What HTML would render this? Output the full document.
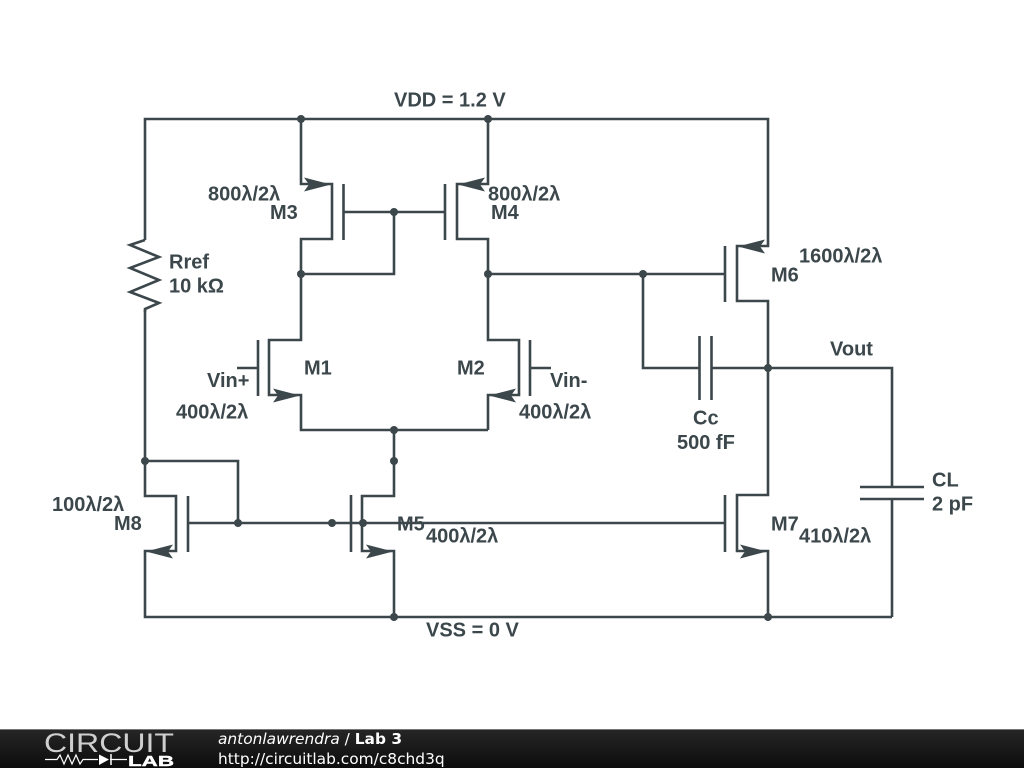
<!DOCTYPE html>
<html>
<head>
<meta charset="utf-8">
<style>
html,body{margin:0;padding:0;background:#fff;width:1024px;height:768px;overflow:hidden}
svg{display:block}
.t{font-family:"Liberation Sans",Arial,sans-serif;font-weight:700;font-size:20px;fill:#3c474c}
.f{font-family:"DejaVu Sans",sans-serif;font-size:15.4px;fill:#fff}
</style>
</head>
<body>
<svg width="1024" height="768" viewBox="0 0 1024 768" xmlns="http://www.w3.org/2000/svg">
<defs>
<linearGradient id="g" x1="0" y1="0" x2="0" y2="1"><stop offset="0" stop-color="#262626"/><stop offset="1" stop-color="#0c0c0c"/></linearGradient>
</defs>
<rect width="1024" height="768" fill="#fff"/>
<g fill="none" stroke="#3c474c" stroke-width="2.6" stroke-linejoin="miter">
<!-- supply rails and right-hand branch -->
<path d="M145 240V119H768V246H737V301H768V495H737V551H768V617"/>
<path d="M892 617H145V551H176V496H145V310"/>
<path d="M145 240L130 245L159 257L130 268L159 280L130 292L159 303L145 309V312"/>
<path d="M145 461H238V523"/>
<!-- M3 / M1 -->
<path d="M301 119V184H332V239H301V340H269V395H301V430H488"/>
<!-- M4 / M2 -->
<path d="M488 119V184H457V239H488V340H519V395H488V430"/>
<path d="M301 274H394V212"/>
<path d="M344 212H445"/>
<path d="M343.500 184V240M445 184V240"/>
<path d="M488 274H725M725 246V302"/>
<path d="M643 274V368H699M699.500 336V400M711.500 336V400M712 368H892V487M860 487H924M860 499H924M892 499V617"/>
<path d="M258 340V396M237 368H258M530 340V396M530 368H551"/>
<path d="M394 430V496H362V551H394V617"/>
<path d="M351 495V552M188 496V552M725 495V552"/>
<path d="M188 523H725"/>
</g>
<g fill="#3c474c">
<circle cx="301" cy="119" r="4"/><circle cx="488" cy="119" r="4"/>
<circle cx="394" cy="212" r="4"/><circle cx="301" cy="274" r="4"/>
<circle cx="488" cy="274" r="4"/><circle cx="643" cy="274" r="4"/>
<circle cx="768" cy="368" r="4"/><circle cx="394" cy="430" r="4"/>
<circle cx="394" cy="461" r="4"/><circle cx="145" cy="461" r="4"/>
<circle cx="238" cy="523" r="4"/><circle cx="332" cy="523" r="4"/>
<circle cx="363" cy="523" r="4"/><circle cx="394" cy="617" r="4"/>
<circle cx="768" cy="617" r="4"/>
<!-- arrowheads -->
<path d="M331 184.500L304 177.500L309 184.500L304 191.500Z"/>
<path d="M458 184.500L485 177.500L480 184.500L485 191.500Z"/>
<path d="M738 246.500L765 239.500L760 246.500L765 253.500Z"/>
<path d="M300 395.500L273 388.500L278 395.500L273 402.500Z"/>
<path d="M489 395.500L516 388.500L511 395.500L516 402.500Z"/>
<path d="M146 551.500L173 544.500L168 551.500L173 558.500Z"/>
<path d="M393 551.500L366 544.500L371 551.500L366 558.500Z"/>
<path d="M767 551.500L740 544.500L745 551.500L740 558.500Z"/>
</g>
<g class="t">
<text class="t" x="394" y="106.500">VDD = 1.2 V</text>
<text class="t" x="426" y="636.500">VSS = 0 V</text>
<text class="t" x="208" y="200.500">800λ/2λ</text>
<text class="t" x="270" y="219">M3</text>
<text class="t" x="488" y="200.500">800λ/2λ</text>
<text class="t" x="491" y="219">M4</text>
<text class="t" x="799" y="262.500">1600λ/2λ</text>
<text class="t" x="771" y="281.500">M6</text>
<text class="t" x="169" y="268.500">Rref</text>
<text class="t" x="169" y="292.500">10 kΩ</text>
<text class="t" x="304" y="374.500">M1</text>
<text class="t" x="457" y="374.500">M2</text>
<text class="t" x="207" y="387">Vin+</text>
<text class="t" x="550" y="387">Vin-</text>
<text class="t" x="176" y="418.500">400λ/2λ</text>
<text class="t" x="519" y="418.500">400λ/2λ</text>
<text class="t" x="830" y="355.500">Vout</text>
<text class="t" x="693" y="424.500">Cc</text>
<text class="t" x="677" y="449">500 fF</text>
<text class="t" x="932" y="486.500">CL</text>
<text class="t" x="932" y="510.500">2 pF</text>
<text class="t" x="52" y="511">100λ/2λ</text>
<text class="t" x="114" y="530">M8</text>
<text class="t" x="397" y="530.500">M5</text>
<text class="t" x="426" y="542.500">400λ/2λ</text>
<text class="t" x="771" y="530.500">M7</text>
<text class="t" x="799" y="542.500">410λ/2λ</text>
</g>
<!-- footer -->
<rect x="0" y="729" width="1024" height="39" fill="url(#g)"/>
<rect x="0" y="729" width="1024" height="1" fill="#777"/>
<text x="44" y="752" font-family="'Liberation Sans',sans-serif" font-size="27" fill="#cfcfcf" textLength="130" lengthAdjust="spacingAndGlyphs">CIRCUIT</text>
<path d="M45 759.500H57L60 755L64 764L68 755L72 764L76 755L80 764L83 759.500H98M110 759.500H127" fill="none" stroke="#fff" stroke-width="1.200"/>
<path d="M99 754.500L109 759.500L99 765Z" fill="#fff"/>
<path d="M111 754V765" stroke="#fff" stroke-width="1.500"/>
<text x="128" y="766" font-family="'Liberation Sans',sans-serif" font-size="15" font-weight="700" fill="#fff" stroke="#fff" stroke-width=".4" textLength="46" lengthAdjust="spacingAndGlyphs">LAB</text>
<text class="f" x="218" y="744"><tspan font-style="italic">antonlawrendra</tspan> / <tspan font-weight="700">Lab 3</tspan></text>
<text class="f" x="218" y="764">http://circuitlab.com/c8chd3q</text>
</svg>
</body>
</html>
